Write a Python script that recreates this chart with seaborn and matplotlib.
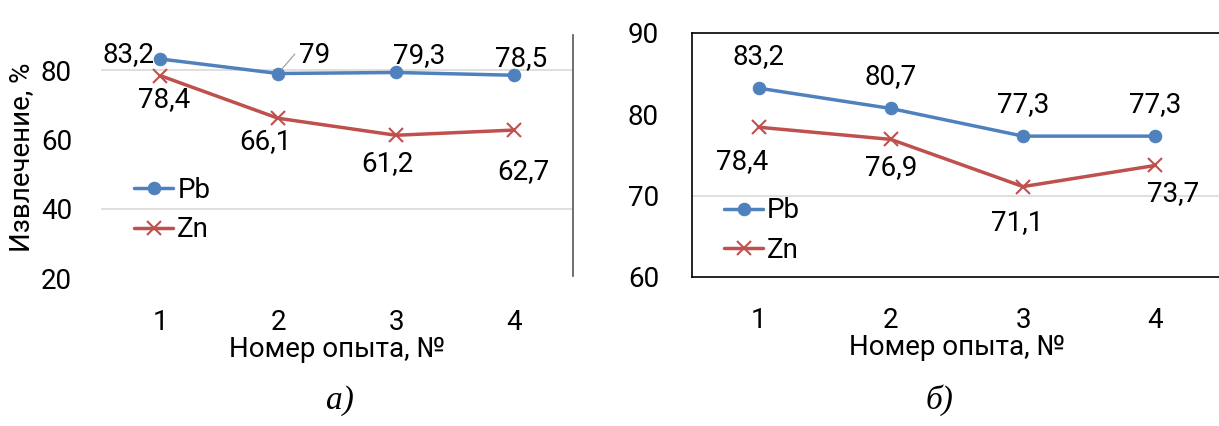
import pandas as pd
import numpy as np
import matplotlib.pyplot as plt
import seaborn as sns

# Данные
opyt = [1, 2, 3, 4]
pb_a = [83.2, 79.0, 79.3, 78.5]
zn_a = [78.4, 66.1, 61.2, 62.7]
pb_b = [83.2, 80.7, 77.3, 77.3]
zn_b = [78.4, 76.9, 71.1, 73.7]

sns.set_style("white")
plt.rcParams['font.family'] = ['Roboto', 'DejaVu Sans']
plt.rcParams['text.color'] = 'black'
plt.rcParams['xtick.color'] = 'black'
plt.rcParams['ytick.color'] = 'black'
plt.rcParams['axes.labelcolor'] = 'black'

colors = {'Pb': '#4F81BD', 'Zn': '#C0504D'}
FS = 20


def make_df(pb, zn):
    return pd.DataFrame({'opyt': opyt * 2,
                         'val': pb + zn,
                         'el': ['Pb'] * 4 + ['Zn'] * 4})


def lab(v):
    s = ('%.1f' % v).replace('.', ',')
    return s[:-2] if s.endswith(',0') else s


fig = plt.figure(figsize=(12.19, 4.26), dpi=100)
ax1 = fig.add_axes([0.083, 0.347, 0.387, 0.570])
ax2 = fig.add_axes([0.568, 0.350, 0.434, 0.573])

for ax, pb, zn in [(ax1, pb_a, zn_a), (ax2, pb_b, zn_b)]:
    df = make_df(pb, zn)
    sns.lineplot(data=df[df.el == 'Pb'], x='opyt', y='val', ax=ax, color=colors['Pb'],
                 lw=2.5, marker='o', markersize=9, markeredgecolor=colors['Pb'], label='Pb')
    sns.lineplot(data=df[df.el == 'Zn'], x='opyt', y='val', ax=ax, color=colors['Zn'],
                 lw=2.5, marker='x', markersize=10, markeredgewidth=1.5,
                 markeredgecolor=colors['Zn'], label='Zn')
    ax.set_xlim(0.5, 4.5)
    ax.set_xticks(opyt)
    ax.tick_params(axis='x', labelsize=FS, length=0, pad=22)
    ax.tick_params(axis='y', labelsize=FS, length=0)
    ax.set_xlabel('Номер опыта, №', fontsize=FS, labelpad=0)
    ax.set_ylabel('')

# левая панель
ax1.set_ylim(20, 90)
ax1.set_yticks([20, 40, 60, 80])
ax1.tick_params(axis='y', pad=21)
ax1.set_ylabel('Извлечение, %', fontsize=FS, labelpad=4)
for y in [40, 80]:
    ax1.axhline(y, color='#d9d9d9', lw=1.2, zorder=0)
for s in ['top', 'left', 'bottom']:
    ax1.spines[s].set_visible(False)
ax1.spines['right'].set_color('#555555')
ax1.spines['right'].set_linewidth(1.2)
ax1.spines['right'].set_bounds(20.5, 90)

# подписи Pb (а)
pb_off_a = [(-4, 3, 'right'), (15, 13, 'left'), (-2, 12, 'left'), (-14, 12, 'left')]
for x, v, (dx, dy, ha) in zip(opyt, pb_a, pb_off_a):
    ax1.annotate(lab(v), (x, v), xytext=(dx, dy), textcoords='offset points',
                 ha=ha, va='center', fontsize=FS)
ax1.annotate('', (2, 79.0), xytext=(12, 14), textcoords='offset points',
             arrowprops=dict(arrowstyle='-', color='#999999', lw=0.8, shrinkA=0, shrinkB=4))
# подписи Zn (а)
zn_off_a = [(3, -17), (-9, -17), (-6, -20), (7, -30)]
for x, v, o in zip(opyt, zn_a, zn_off_a):
    ax1.annotate(lab(v), (x, v), xytext=o, textcoords='offset points',
                 ha='center', va='center', fontsize=FS)
ax1.legend(loc='center left', bbox_to_anchor=(0.07, 0.28), frameon=False,
           fontsize=FS, handlelength=1.4, handletextpad=0.15, labelspacing=0.45,
           borderaxespad=0, borderpad=0)

# правая панель
ax2.set_ylim(60, 90)
ax2.set_yticks([60, 70, 80, 90])
ax2.tick_params(axis='y', pad=24)
ax2.axhline(70, color='#d9d9d9', lw=1.2, zorder=0)
for s in ax2.spines.values():
    s.set_color('black')
    s.set_linewidth(1.2)

for x, v in zip(opyt, pb_b):
    ax2.annotate(lab(v), (x, v), xytext=(0, 23), textcoords='offset points',
                 ha='center', va='center', fontsize=FS)
zn_off_b = [(-12, -25), (0, -20), (-4, -26), (13, -20)]
for x, v, o in zip(opyt, zn_b, zn_off_b):
    ax2.annotate(lab(v), (x, v), xytext=o, textcoords='offset points',
                 ha='center', va='center', fontsize=FS)
ax2.legend(loc='center left', bbox_to_anchor=(0.06, 0.19), frameon=False,
           fontsize=FS, handlelength=1.4, handletextpad=0.15, labelspacing=0.45,
           borderaxespad=0, borderpad=0)

fig.text(0.279, 0.04, 'а)', fontsize=24, style='italic', ha='center',
         family=['Liberation Serif', 'DejaVu Serif'])
fig.text(0.771, 0.04, 'б)', fontsize=24, style='italic', ha='center',
         family=['Liberation Serif', 'DejaVu Serif'])

fig.savefig('out.png', dpi=100)
